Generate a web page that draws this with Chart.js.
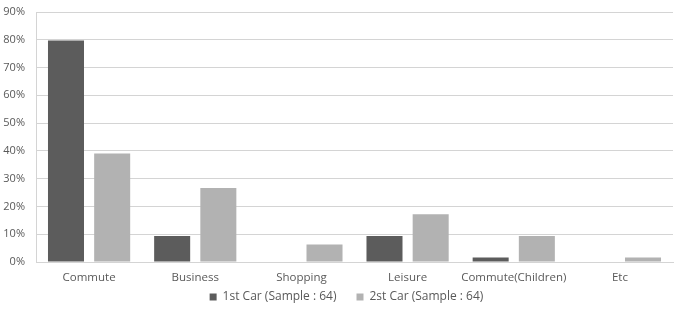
<!DOCTYPE html>
<html><head><meta charset="utf-8">
<script src="https://cdn.jsdelivr.net/npm/chart.js@4/dist/chart.umd.min.js"></script>
<style>html,body{margin:0;padding:0;background:#fff}#w{width:674px;height:311px}</style>
</head><body><div id="w"><canvas id="c"></canvas></div>
<script>
const categories = ["Commute","Business","Shopping","Leisure","Commute(Children)","Etc"];
const firstCar = [79.7, 9.4, 0, 9.4, 1.6, 0];
const secondCar = [39.1, 26.6, 6.3, 17.2, 9.4, 1.6];
const seriesNames = ["1st Car (Sample : 64)", "2st Car (Sample : 64)"];
const yTicks = [0,10,20,30,40,50,60,70,80,90];
const FONT = 'Open Sans';

// Legend: keep wide horizontal spacing but a compact box height
const LEGEND_H = 24, LEGEND_DY = 16, LEGEND_DX = 10;
const LegendEl = Chart.Legend && Chart.Legend._element;
if (LegendEl) {
  const fit0 = LegendEl.prototype.fit;
  LegendEl.prototype.fit = function () { fit0.call(this); if (this.options.display) this.height = LEGEND_H; };
  const draw0 = LegendEl.prototype.draw;
  LegendEl.prototype.draw = function () {
    const t = this.top, l = this.left, r = this.right, h = this.height;
    this.top -= LEGEND_DY; this.height = h + LEGEND_DY;
    this.left += LEGEND_DX; this.right += LEGEND_DX;
    draw0.call(this);
    this.top = t; this.left = l; this.right = r; this.height = h;
  };
}

new Chart(document.getElementById('c'), {
  type: 'bar',
  data: {
    labels: categories,
    datasets: [
      {label: seriesNames[0], data: firstCar, backgroundColor: '#5c5c5c', categoryPercentage: 0.87, barPercentage: 0.78},
      {label: seriesNames[1], data: secondCar, backgroundColor: '#b2b2b2', categoryPercentage: 0.87, barPercentage: 0.78}
    ]
  },
  options: {
    responsive: true, maintainAspectRatio: false, animation: false,
    layout: {padding: {top: 12, right: 1, left: 0, bottom: 0}},
    plugins: {
      tooltip: {enabled: false},
      legend: {position: 'bottom', labels: {boxWidth: 7, boxHeight: 7, padding: 20, color: '#595959', font: {family: FONT, size: 12}}}
    },
    scales: {
      x: {
        grid: {display: false, drawTicks: false},
        border: {color: '#d4d4d4'},
        afterFit: s => { s.height = 25; },
        ticks: {color: '#595959', font: {family: FONT, size: 11.5}, maxRotation: 0, minRotation: 0, autoSkip: false, padding: 9}
      },
      y: {
        min: 0, max: 90,
        afterBuildTicks: s => { s.ticks = yTicks.map(v => ({value: v})); },
        afterFit: s => { s.width = 36; },
        grid: {color: '#d4d4d4', drawTicks: false},
        border: {color: '#d4d4d4'},
        ticks: {color: '#595959', font: {family: FONT, size: 11, lineHeight: 0.1}, padding: 11, callback: v => v + '%'}
      }
    }
  }
});
</script></body></html>
